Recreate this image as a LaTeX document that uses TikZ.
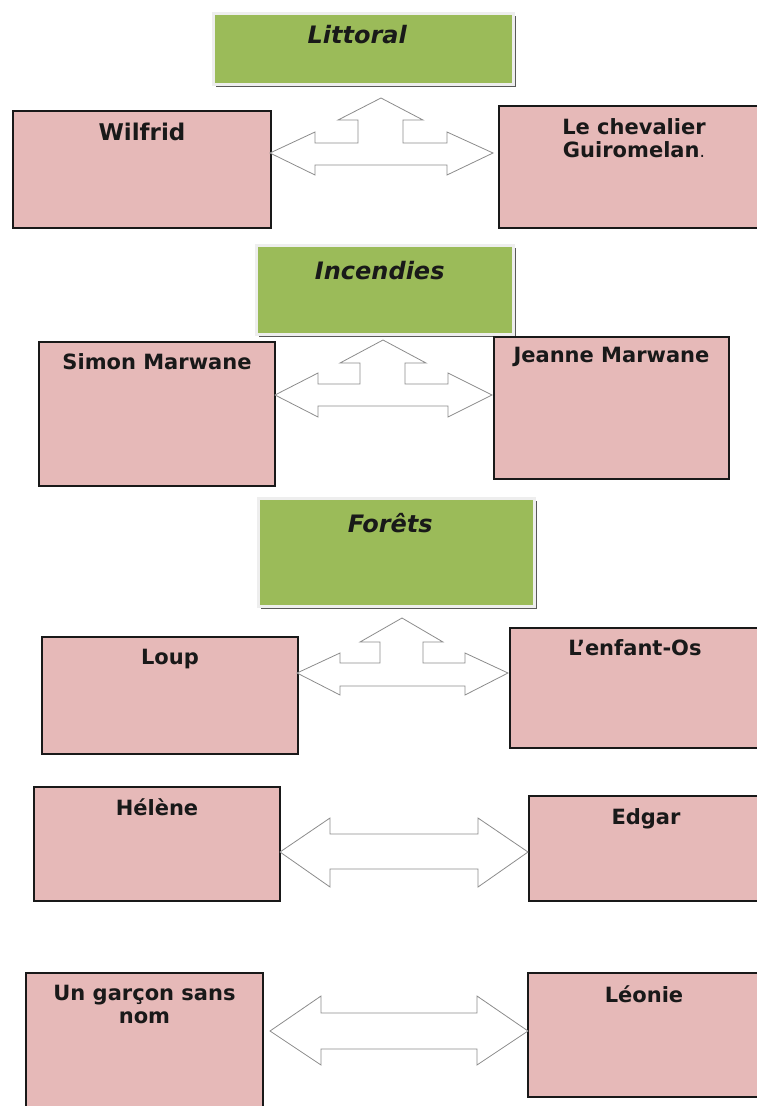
\documentclass[tikz,border=0pt]{standalone}
\usepackage{fontspec}
\setmainfont{DejaVu Sans}
\usetikzlibrary{shadows}
\definecolor{pinkfill}{HTML}{E6B9B8}
\definecolor{greenfill}{HTML}{9BBB59}
\definecolor{frame}{HTML}{EEEEEE}
\definecolor{arrowline}{HTML}{8C8C8C}
\tikzset{
  pinkbox/.style={draw=black!90, line width=2pt, fill=pinkfill, rectangle, inner sep=0pt},
  greenbox/.style={draw=frame, line width=2.5pt, fill=greenfill, rectangle, inner sep=0pt,
    drop shadow={shadow xshift=3pt, shadow yshift=-3pt, fill=black!65, opacity=1}},
  lbl/.style={font=\fontsize{21}{23}\selectfont\bfseries, text=black!90, align=center, inner sep=0pt, anchor=north},
  ttl/.style={font=\fontsize{24}{26}\selectfont\bfseries\itshape, text=black!90, inner sep=0pt, anchor=north},
  blockarrow/.style={draw=arrowline, line width=0.8pt, fill=white, line join=miter}
}
\begin{document}
\begin{tikzpicture}[x=1pt,y=-1pt]
\useasboundingbox (0,0) rectangle (757,1106);
\begin{scope}
\clip (0,0) rectangle (757,1106);
% green title boxes
\node[greenbox, minimum width=300, minimum height=71, anchor=north west] (t1) at (212,12) {};
\node[greenbox, minimum width=257, minimum height=89, anchor=north west] (t2) at (255,244) {};
\node[greenbox, minimum width=276, minimum height=108, anchor=north west] (t3) at (257,497) {};
\node[ttl] at ([xshift=-6,yshift=-13]t1.north) {Littoral};
\node[ttl] at ([xshift=-5,yshift=-17]t2.north) {Incendies};
\node[ttl] at ([xshift=-6,yshift=-16]t3.north) {Forêts};

% pink boxes
\node[pinkbox, minimum width=258, minimum height=117, anchor=north west] (wil) at (12,110) {};
\node[pinkbox, minimum width=270, minimum height=122, anchor=north west] (gui) at (498,105) {};
\node[pinkbox, minimum width=236, minimum height=144, anchor=north west] (sim) at (38,341) {};
\node[pinkbox, minimum width=235, minimum height=142, anchor=north west] (jea) at (493,336) {};
\node[pinkbox, minimum width=256, minimum height=117, anchor=north west] (lou) at (41,636) {};
\node[pinkbox, minimum width=250, minimum height=120, anchor=north west] (enf) at (509,627) {};
\node[pinkbox, minimum width=246, minimum height=114, anchor=north west] (hel) at (33,786) {};
\node[pinkbox, minimum width=234, minimum height=105, anchor=north west] (edg) at (528,795) {};
\node[pinkbox, minimum width=237, minimum height=150, anchor=north west] (gar) at (25,972) {};
\node[pinkbox, minimum width=232, minimum height=124, anchor=north west] (leo) at (527,972) {};

\node[lbl, font=\fontsize{23}{25}\selectfont\bfseries] at ([yshift=-13]wil.north) {Wilfrid};
\node[lbl] at ([yshift=-13]gui.north) {Le chevalier\\Guiromelan{\mdseries\fontsize{17}{23}\selectfont.}};
\node[lbl] at ([yshift=-12]sim.north) {Simon Marwane};
\node[lbl] at ([yshift=-11]jea.north) {Jeanne Marwane};
\node[lbl] at ([yshift=-13]lou.north) {Loup};
\node[lbl] at ([yshift=-12]enf.north) {L’enfant-Os};
\node[lbl] at ([yshift=-12]hel.north) {Hélène};
\node[lbl] at ([yshift=-13]edg.north) {Edgar};
\node[lbl] at ([yshift=-13]gar.north) {Un garçon sans\\nom};
\node[lbl] at ([yshift=-13]leo.north) {Léonie};
\end{scope}

% three-way block arrows
\draw[blockarrow] (270,153) -- (315,132) -- (315,143) -- (358,143) -- (358,120) -- (338,120)
  -- (381,98) -- (423,120) -- (403,120) -- (403,143) -- (447,143) -- (447,132) -- (493,153)
  -- (447,175) -- (447,165) -- (315,165) -- (315,175) -- cycle;
\draw[blockarrow] (275,395) -- (318,373) -- (318,384) -- (360,384) -- (360,363) -- (340,363)
  -- (383,340) -- (426,363) -- (405,363) -- (405,384) -- (448,384) -- (448,373) -- (492,395)
  -- (448,417) -- (448,406) -- (318,406) -- (318,417) -- cycle;
\draw[blockarrow] (297,673) -- (340,653) -- (340,663) -- (380,663) -- (380,642) -- (360,642)
  -- (402,618) -- (443,642) -- (423,642) -- (423,663) -- (465,663) -- (465,653) -- (508,673)
  -- (465,695) -- (465,686) -- (340,686) -- (340,695) -- cycle;
% double block arrows
\draw[blockarrow] (280,852) -- (330,818) -- (330,834) -- (478,834) -- (478,818) -- (528,852)
  -- (478,887) -- (478,869) -- (330,869) -- (330,887) -- cycle;
\draw[blockarrow] (270,1031) -- (321,996) -- (321,1013) -- (477,1013) -- (477,996) -- (528,1031)
  -- (477,1065) -- (477,1049) -- (321,1049) -- (321,1065) -- cycle;
\end{tikzpicture}
\end{document}
